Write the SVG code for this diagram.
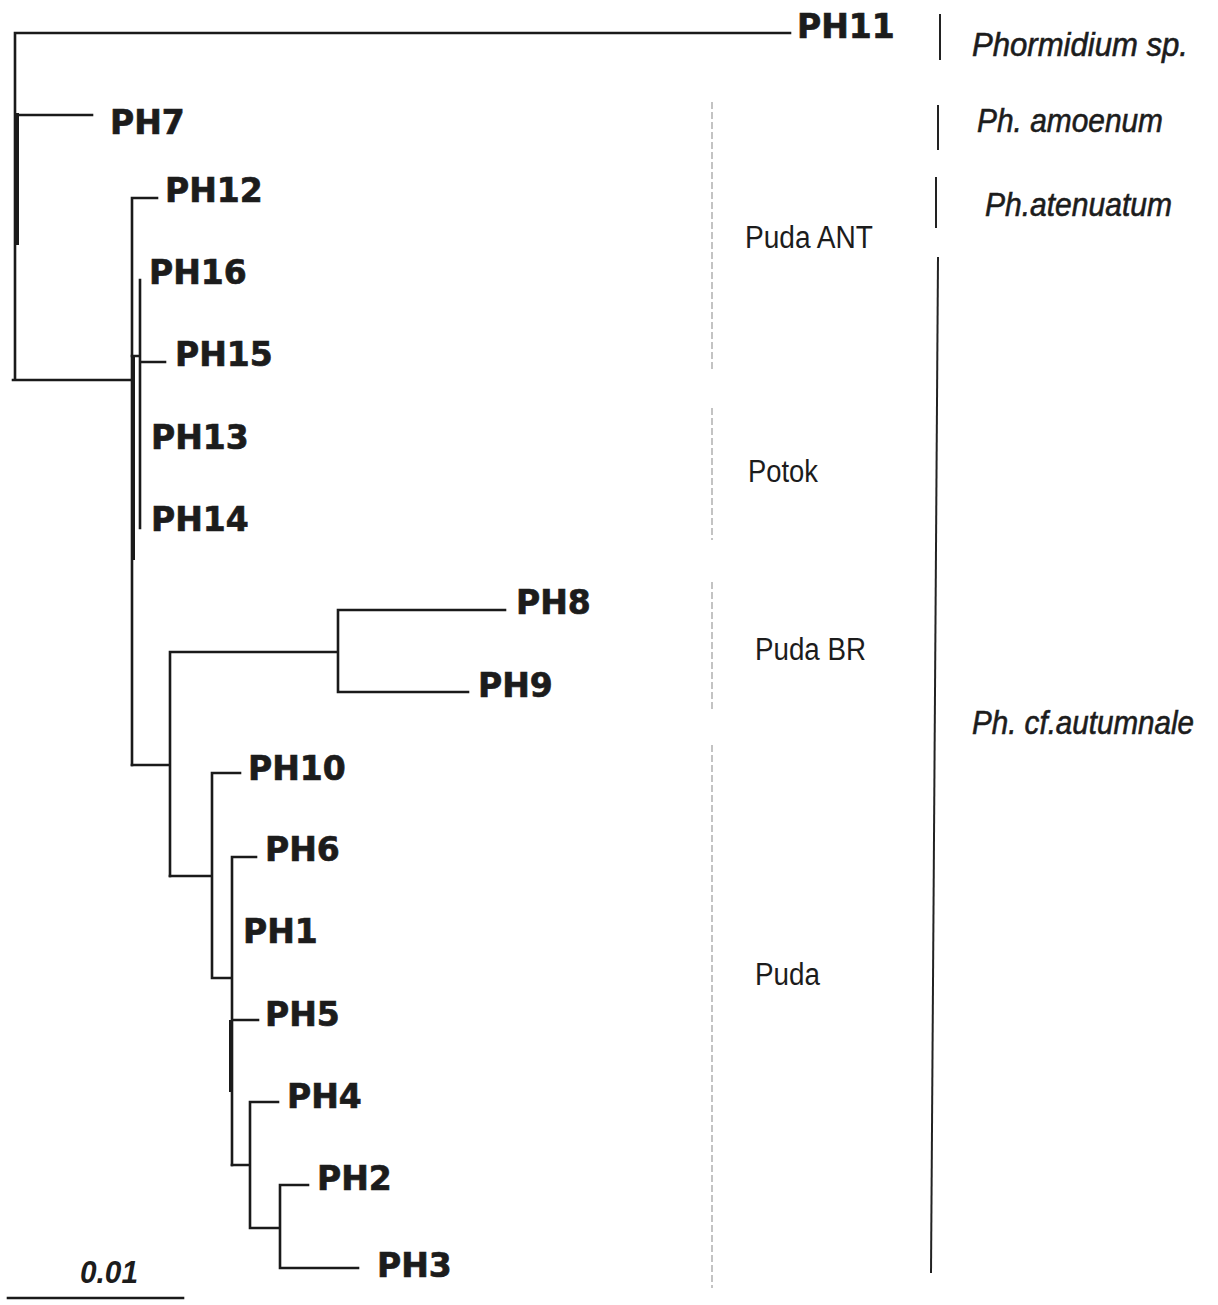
<svg xmlns="http://www.w3.org/2000/svg" width="1218" height="1305" viewBox="0 0 1218 1305">
<style>
.br{stroke:#1a1a1a;stroke-width:2.6;fill:none;stroke-linecap:square}
.thick{stroke:#1a1a1a;stroke-width:4;fill:none}
.tip{font-family:"DejaVu Sans",Verdana,sans-serif;font-weight:bold;font-size:33px;fill:#1c1c1c;stroke:#1c1c1c;stroke-width:0.7}
.sp{font-family:"Liberation Sans",Arial,sans-serif;font-style:italic;font-size:33px;fill:#1c1c1c;stroke:#1c1c1c;stroke-width:0.6}
.loc{font-family:"Liberation Sans",Arial,sans-serif;font-size:31px;fill:#1c1c1c}
.sep{stroke:#222;stroke-width:2;fill:none}
.grey{stroke:#b0b0b0;stroke-width:1.5;fill:none;stroke-dasharray:7 3}
</style>
<rect width="1218" height="1305" fill="#ffffff"/>
<g id="connectors">
<path class="br" d="M15,33 V380 M15,33 H790 M15,115 H92 M13,380 H132"/>
<line class="thick" x1="17" y1="113" x2="17" y2="245"/>
<path class="br" d="M132,198 V765 M132,198 H157"/>
<line class="thick" x1="133" y1="355" x2="133" y2="560"/>
<path class="br" d="M132,356 H140 M140,280 V528 M140,362 H165"/>
<path class="br" d="M132,765 H170 M170,652 V876 M170,652 H338 M338,610 V692 M338,610 H505 M338,692 H468"/>
<path class="br" d="M170,876 H212 M212,773 V978 M212,773 H240 M212,978 H232 M232,857 V1165 M232,857 H256 M232,1020 H258"/>
<line class="thick" x1="231" y1="1020" x2="231" y2="1092"/>
<path class="br" d="M232,1165 H250 M250,1102 V1228 M250,1102 H278 M250,1228 H280 M280,1185 V1268 M280,1185 H308 M280,1268 H358"/>
</g>
<g id="PH11"><text class="tip" x="797" y="38">PH11</text></g>
<g id="PH7"><text class="tip" x="110" y="134">PH7</text></g>
<g id="PH12"><text class="tip" x="165" y="202">PH12</text></g>
<g id="PH16"><text class="tip" x="149" y="284">PH16</text></g>
<g id="PH15"><text class="tip" x="175" y="366">PH15</text></g>
<g id="PH13"><text class="tip" x="151" y="449">PH13</text></g>
<g id="PH14"><text class="tip" x="151" y="531">PH14</text></g>
<g id="PH8"><text class="tip" x="516" y="614">PH8</text></g>
<g id="PH9"><text class="tip" x="478" y="697">PH9</text></g>
<g id="PH10"><text class="tip" x="248" y="780">PH10</text></g>
<g id="PH6"><text class="tip" x="265" y="861">PH6</text></g>
<g id="PH1"><text class="tip" x="243" y="943">PH1</text></g>
<g id="PH5"><text class="tip" x="265" y="1026">PH5</text></g>
<g id="PH4"><text class="tip" x="287" y="1108">PH4</text></g>
<g id="PH2"><text class="tip" x="317" y="1190">PH2</text></g>
<g id="PH3"><text class="tip" x="377" y="1277">PH3</text></g>
<g id="locations">
<path class="grey" d="M712,102 V372 M712,408 V540 M712,582 V712 M712,745 V1288"/>
<text class="loc" x="745" y="248" textLength="128" lengthAdjust="spacingAndGlyphs">Puda ANT</text>
<text class="loc" x="748" y="482" textLength="70" lengthAdjust="spacingAndGlyphs">Potok</text>
<text class="loc" x="755" y="660" textLength="111" lengthAdjust="spacingAndGlyphs">Puda BR</text>
<text class="loc" x="755" y="985" textLength="65" lengthAdjust="spacingAndGlyphs">Puda</text>
</g>
<g id="species">
<path class="sep" d="M940,14 V60 M938,105 V150 M936,177 V228"/>
<line class="sep" x1="938" y1="257" x2="931" y2="1273"/>
<text class="sp" x="972" y="56" textLength="216" lengthAdjust="spacingAndGlyphs">Phormidium sp.</text>
<text class="sp" x="977" y="132" textLength="186" lengthAdjust="spacingAndGlyphs">Ph. amoenum</text>
<text class="sp" x="985" y="216" textLength="187" lengthAdjust="spacingAndGlyphs">Ph.atenuatum</text>
<text class="sp" x="972" y="734" textLength="222" lengthAdjust="spacingAndGlyphs">Ph. cf.autumnale</text>
</g>
<g id="scale">
<line class="br" x1="8" y1="1298" x2="183" y2="1298"/>
<text x="80" y="1283" font-family="Liberation Sans, Arial, sans-serif" font-weight="bold" font-style="italic" font-size="31" textLength="58" lengthAdjust="spacingAndGlyphs" fill="#1c1c1c">0.01</text>
</g>
</svg>
